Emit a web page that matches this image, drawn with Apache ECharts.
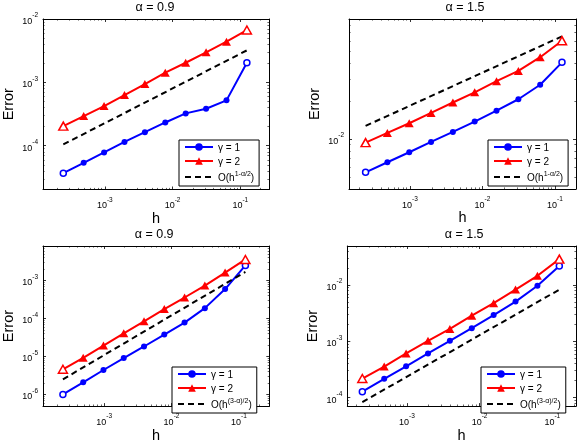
<!DOCTYPE html>
<html>
<head>
<meta charset="utf-8">
<script src="https://cdn.jsdelivr.net/npm/echarts@6/dist/echarts.min.js"></script>
<style>
  html, body { margin: 0; padding: 0; background: #fff; }
  #chart { width: 579px; height: 444px; }
</style>
</head>
<body>
<div id="chart"></div>
<script>
// mesh sizes h = 2^-12 ... 2^-3
const hValues = [0.000244140625, 0.00048828125, 0.0009765625, 0.001953125, 0.00390625,
  0.0078125, 0.015625, 0.03125, 0.0625, 0.125];

// top row: O(h^(1-a/2)) error
const errTopA09G1 = [3.69e-5, 5.37e-5, 7.83e-5, 1.15e-4, 1.64e-4, 2.33e-4, 3.24e-4, 3.83e-4, 5.20e-4, 2.04e-3];
const errTopA09G2 = [2.04e-4, 2.94e-4, 4.23e-4, 6.30e-4, 9.40e-4, 1.42e-3, 2.04e-3, 2.98e-3, 4.38e-3, 6.70e-3];
const refTopA09 = [1.05e-4, 3.2e-3]; // at first and last h

const errTopA15G1 = [5.43e-3, 6.53e-3, 7.84e-3, 9.47e-3, 1.137e-2, 1.374e-2, 1.68e-2, 2.07e-2, 2.70e-2, 4.07e-2];
const errTopA15G2 = [9.35e-3, 1.117e-2, 1.334e-2, 1.61e-2, 1.95e-2, 2.35e-2, 2.88e-2, 3.48e-2, 4.47e-2, 6.05e-2];
const refTopA15 = [1.27e-2, 6.55e-2];

// bottom row: O(h^((3-a)/2)) error
const errBotA09G1 = [1.0e-6, 2.09e-6, 4.40e-6, 9.08e-6, 1.83e-5, 3.78e-5, 7.80e-5, 1.87e-4, 5.94e-4, 2.48e-3];
const errBotA09G2 = [4.6e-6, 9.23e-6, 1.94e-5, 4.07e-5, 8.40e-5, 1.77e-4, 3.56e-4, 7.34e-4, 1.61e-3, 3.57e-3];
const refBotA09 = [2.5e-6, 1.68e-3];

const errBotA15G1 = [1.27e-4, 2.15e-4, 3.60e-4, 6.10e-4, 1.02e-3, 1.71e-3, 2.93e-3, 5.09e-3, 9.70e-3, 2.18e-2];
const errBotA15G2 = [2.18e-4, 3.56e-4, 6.10e-4, 1.02e-3, 1.66e-3, 2.86e-3, 4.77e-3, 8.31e-3, 1.46e-2, 2.89e-2];
const refBotA15 = [8.3e-5, 8.3e-3];

const FONT = "'Liberation Sans', Arial, sans-serif";
const NAME_G1 = 'γ = 1';
const NAME_G2 = 'γ = 2';
const NAME_REF1 = 'O(h^(1-α/2))';
const NAME_REF2 = 'O(h^((3-α)/2))';

const legendRich = {
  [NAME_G1]: '{n|γ = 1}',
  [NAME_G2]: '{n|γ = 2}',
  [NAME_REF1]: '{n|O(h}{s|1-α/2}{n|)}',
  [NAME_REF2]: '{n|O(h}{s|(3-α)/2}{n|)}'
};

const panels = [
  { title: 'α = 0.9', grid: { left: 41, top: 19, width: 228, height: 170.5 },
    xr: [1.225e-4, 0.265], yr: [2.04e-5, 1e-2], g1: errTopA09G1, g2: errTopA09G2, ref: refTopA09,
    refName: NAME_REF1, legend: { left: 179, top: 140 } },
  { title: 'α = 1.5', grid: { left: 349, top: 19, width: 232, height: 170 },
    xr: [1.442e-4, 0.195], yr: [0.004, 0.09], g1: errTopA15G1, g2: errTopA15G2, ref: refTopA15,
    refName: NAME_REF1, legend: { left: 488, top: 140 } },
  { title: 'α = 0.9', grid: { left: 39, top: 246, width: 230.3, height: 170 },
    xr: [1.236e-4, 0.283], yr: [4.94e-7, 8.07e-3], g1: errBotA09G1, g2: errBotA09G2, ref: refBotA09,
    refName: NAME_REF2, legend: { left: 172, top: 367 } },
  { title: 'α = 1.5', grid: { left: 347.3, top: 246, width: 233.7, height: 170 },
    xr: [1.517e-4, 0.212], yr: [7.05e-5, 0.0495], g1: errBotA15G1, g2: errBotA15G2, ref: refBotA15,
    refName: NAME_REF2, legend: { left: 481, top: 367 } }
];

// 10^n labels, empty at the non-decade limits
const powLabel = (v) => {
  const e = Math.log10(v);
  const r = Math.round(e);
  if (Math.abs(e - r) > 1e-6) return '';
  return '{b|10}{e|' + r + '}';
};

const tickRich = {
  b: { fontSize: 9, lineHeight: 14, verticalAlign: 'bottom', fontFamily: FONT, color: '#000' },
  e: { fontSize: 6.5, lineHeight: 7, verticalAlign: 'top', fontFamily: FONT, color: '#000' }
};

const makeAxis = (gi, range, pos, main, isX) => {
  const ax = {
    type: 'log',
    logBase: 10,
    gridIndex: gi,
    position: pos,
    min: range[0],
    max: range[1],
    axisLine: { show: true, onZero: false, lineStyle: { color: '#000', width: 1 } },
    axisTick: { show: true, inside: true, length: 3, lineStyle: { color: '#000', width: 0.8 } },
    minorTick: { show: true, splitNumber: 9, length: 1.6, lineStyle: { color: '#000', width: 0.6 } },
    splitLine: { show: false },
    axisLabel: {
      show: main,
      formatter: powLabel,
      rich: tickRich,
      margin: isX ? 7 : 5,
      showMinLabel: true,
      showMaxLabel: true
    }
  };
  if (main) {
    ax.name = isX ? 'h' : 'Error';
    ax.nameLocation = 'middle';
    ax.nameGap = isX ? 19 : 27;
    ax.nameTextStyle = { fontSize: 14.5, fontFamily: FONT, color: '#000' };
  }
  return ax;
};

const xAxes = [], yAxes = [], grids = [], titles = [], legends = [], series = [];

const endStyle = (color) => ({ color: '#fff', borderColor: color, borderWidth: 1.5 });

const lineData = (vals, color) => hValues.map((h, k) => {
  if (k === 0 || k === hValues.length - 1) {
    return { value: [h, vals[k]], itemStyle: endStyle(color) };
  }
  return [h, vals[k]];
});

panels.forEach((p, i) => {
  grids.push(Object.assign({ show: false }, p.grid));
  xAxes.push(makeAxis(i, p.xr, 'bottom', true, true));
  xAxes.push(makeAxis(i, p.xr, 'top', false, true));
  yAxes.push(makeAxis(i, p.yr, 'left', true, false));
  yAxes.push(makeAxis(i, p.yr, 'right', false, false));

  titles.push({
    text: p.title,
    left: p.grid.left + p.grid.width / 2,
    top: p.grid.top - 18,
    textAlign: 'center',
    padding: 0,
    textStyle: { fontSize: 12.5, fontWeight: 'normal', fontFamily: FONT, color: '#000' }
  });

  legends.push({
    data: [NAME_G1, NAME_G2, { name: p.refName, itemStyle: { opacity: 0 } }],
    orient: 'vertical',
    left: p.legend.left,
    top: p.legend.top,
    backgroundColor: '#fff',
    borderColor: '#000',
    borderWidth: 1,
    borderRadius: 0,
    padding: [3, 5, 3, 5],
    itemGap: 4,
    itemWidth: 28,
    itemHeight: 9.5,
    selectedMode: false,
    formatter: (name) => legendRich[name],
    textStyle: {
      color: '#000',
      fontFamily: FONT,
      rich: {
        n: { fontSize: 10, lineHeight: 12, verticalAlign: 'bottom', fontFamily: FONT, color: '#000' },
        s: { fontSize: 7, lineHeight: 7, verticalAlign: 'top', fontFamily: FONT, color: '#000' }
      }
    }
  });

  series.push({
    name: NAME_G1, type: 'line', xAxisIndex: 2 * i, yAxisIndex: 2 * i,
    data: lineData(p.g1, '#0000ff'),
    symbol: 'circle', symbolSize: 6,
    lineStyle: { color: '#0000ff', width: 2 },
    itemStyle: { color: '#0000ff' }
  });
  series.push({
    name: NAME_G2, type: 'line', xAxisIndex: 2 * i, yAxisIndex: 2 * i,
    data: lineData(p.g2, '#ff0000'),
    symbol: 'triangle', symbolSize: [9, 8],
    lineStyle: { color: '#ff0000', width: 2 },
    itemStyle: { color: '#ff0000' }
  });
  series.push({
    name: p.refName, type: 'line', xAxisIndex: 2 * i, yAxisIndex: 2 * i,
    data: [[hValues[0], p.ref[0]], [hValues[hValues.length - 1], p.ref[1]]],
    symbol: 'none',
    lineStyle: { color: '#000', width: 2, type: [6, 4] },
    itemStyle: { color: '#000' }
  });
});

const chart = echarts.init(document.getElementById('chart'));
chart.setOption({
  animation: false,
  backgroundColor: '#fff',
  title: titles,
  legend: legends,
  grid: grids,
  xAxis: xAxes,
  yAxis: yAxes,
  series: series
});
</script>
</body>
</html>
